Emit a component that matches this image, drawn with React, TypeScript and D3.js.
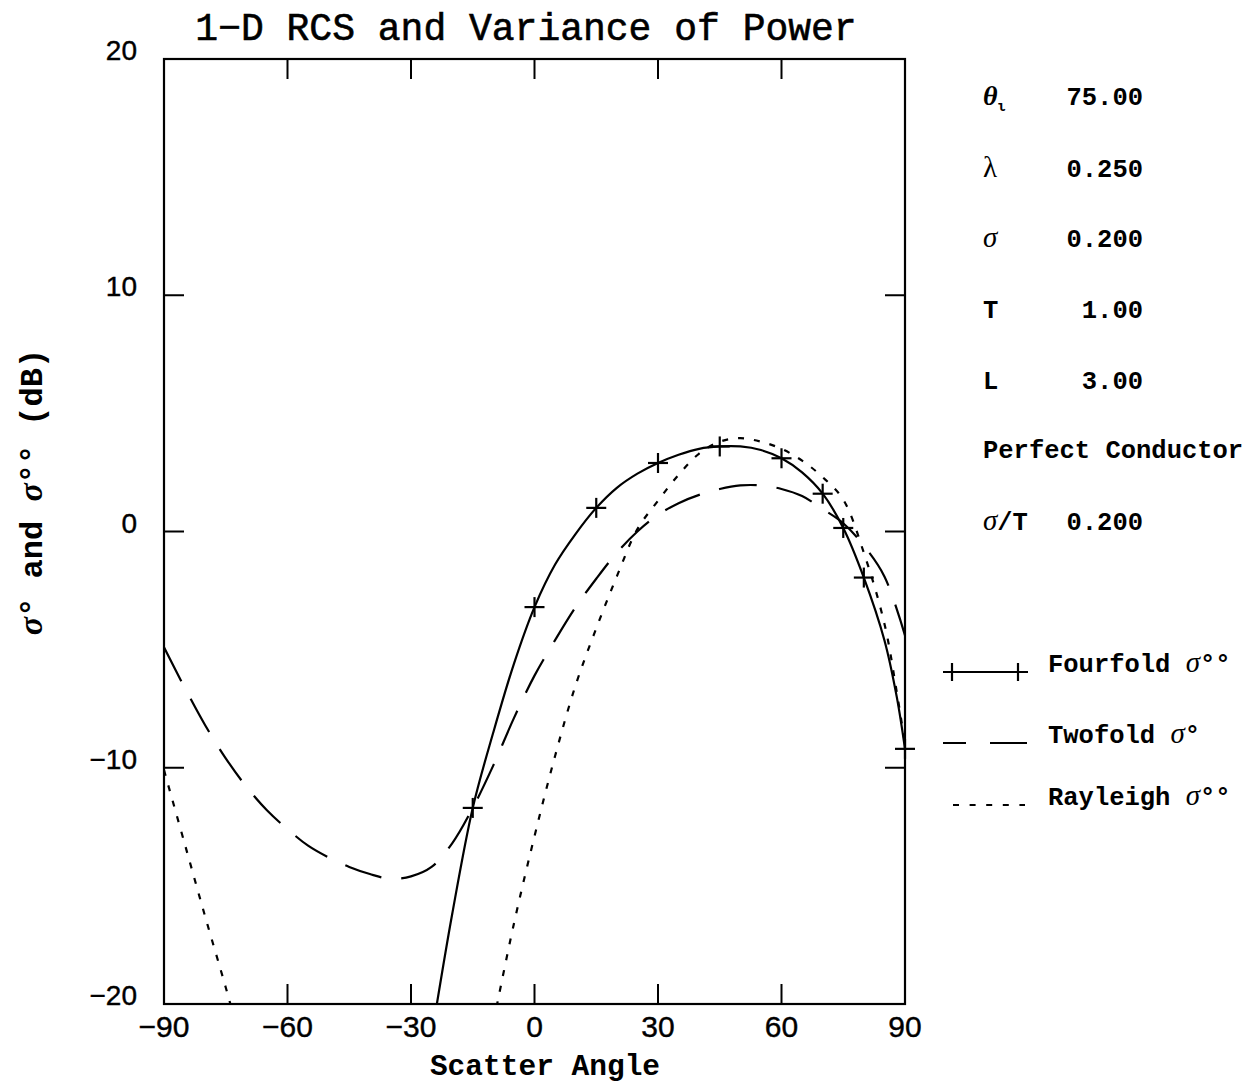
import React from "react";
import * as d3 from "d3";

const W = 1250;
const H = 1089;

const xTicks = [-90, -60, -30, 0, 30, 60, 90];
const yTicks = [-20, -10, 0, 10, 20];

// Fourfold sigma°° (solid)
const fourAngles = [-24, -20, -15, -10, -5, 0, 5, 10, 15, 20, 25, 30, 35, 40, 45, 50, 55, 60, 65, 70, 75, 80, 85, 88, 90];
const fourValues = [-20.3, -16.2, -11.7, -8.5, -5.6, -3.2, -1.4, -0.1, 1.0, 1.85, 2.45, 2.9, 3.25, 3.5, 3.6, 3.6, 3.45, 3.1, 2.5, 1.6, 0.15, -1.95, -4.6, -7.0, -9.2];
const markerAngles = [-15, 0, 15, 30, 45, 60, 70, 75, 80, 90];
const markerValues = [-11.7, -3.2, 1.0, 2.9, 3.6, 3.1, 1.6, 0.15, -1.95, -9.2];

// Twofold sigma° (dashed)
const twoAngles = [-90, -85, -80, -75, -70, -65, -60, -55, -50, -45, -40, -35, -30, -25, -20, -15, -10, -5, 0, 5, 10, 15, 20, 25, 30, 35, 40, 45, 50, 55, 60, 65, 70, 75, 80, 85, 90];
const twoValues = [-4.9, -6.6, -8.2, -9.6, -10.8, -11.8, -12.6, -13.3, -13.8, -14.2, -14.5, -14.7, -14.6, -14.2, -13.2, -11.7, -9.9, -7.9, -6.1, -4.6, -3.2, -2.0, -0.9, 0.0, 0.7, 1.2, 1.55, 1.8, 1.95, 1.95, 1.8, 1.5, 0.95, 0.35, -0.6, -1.9, -4.4];

// Rayleigh sigma°° (dotted), two visible branches
const rayLeftAngles = [-90, -85, -80, -75, -72];
const rayLeftValues = [-10.1, -13.2, -16.3, -19.3, -21.2];
const rayRightAngles = [-10, -5, 0, 5, 10, 15, 20, 25, 30, 35, 40, 45, 50, 55, 60, 65, 70, 75, 80, 85, 88, 90];
const rayRightValues = [-20.8, -16.6, -12.9, -9.5, -6.5, -4.1, -1.9, 0.1, 1.3, 2.4, 3.3, 3.8, 3.95, 3.8, 3.5, 3.0, 2.3, 1.35, -0.9, -3.9, -6.8, -9.0];

const paramLabels = ["λ", "σ", "T", "L"];
const paramValues = ["0.250", "0.200", "1.00", "3.00"];
const thetaValue = "75.00";
const ratioValue = "0.200";
const legendLabels = ["Fourfold σ°°", "Twofold σ°", "Rayleigh σ°°"];

const MONO = "'Liberation Mono', 'DejaVu Sans Mono', monospace";
const SANS = "'Liberation Sans', Arial, sans-serif";
const SERIF = "'Liberation Serif', 'DejaVu Serif', serif";

export default function App() {
  const x = d3.scaleLinear().domain([-90, 90]).range([164, 905]);
  const y = d3.scaleLinear().domain([-20, 20]).range([1004, 59]);
  const line = d3
    .line<[number, number]>()
    .x((d) => x(d[0]))
    .y((d) => y(d[1]))
    .curve(d3.curveCatmullRom.alpha(0.5));

  const four = fourAngles.map((a, i) => [a, fourValues[i]] as [number, number]);
  const two = twoAngles.map((a, i) => [a, twoValues[i]] as [number, number]);
  const rayL = rayLeftAngles.map((a, i) => [a, rayLeftValues[i]] as [number, number]);
  const rayR = rayRightAngles.map((a, i) => [a, rayRightValues[i]] as [number, number]);

  const [x0, x1] = x.range();
  const [y0, y1] = [y(20), y(-20)];
  const tickLen = 20;
  const markerArm = 10;

  const annX = 983;
  const valX = 1143;
  const annFont = 25.5;
  const rowYs = [177, 247, 318, 389];

  return (
    <svg
      width={W}
      height={H}
      style={{ position: "absolute", left: 0, top: 0, background: "#fff" }}
    >
      <rect x={0} y={0} width={W} height={H} fill="#fff" />
      <defs>
        <clipPath id="plotClip">
          <rect x={x0} y={y0} width={x1 - x0} height={y1 - y0} />
        </clipPath>
      </defs>

      {/* Title */}
      <text
        x={526}
        y={40}
        textAnchor="middle"
        fontFamily={MONO}
        fontSize={38}
        fill="#000"
        stroke="#000"
        strokeWidth={0.6}
      >
        1−D RCS and Variance of Power
      </text>

      {/* Curves */}
      <g clipPath="url(#plotClip)" fill="none" stroke="#000">
        <path d={line(two) || ""} strokeWidth={2.2} strokeDasharray="38 20" />
        <path d={line(rayL) || ""} strokeWidth={2.2} strokeDasharray="6 10" />
        <path d={line(rayR) || ""} strokeWidth={2.2} strokeDasharray="6 10" />
        <path d={line(four) || ""} strokeWidth={2.2} />
      </g>
      <g stroke="#000" strokeWidth={2.2}>
        {markerAngles.map((a, i) => (
          <g key={i}>
            <line x1={x(a) - markerArm} x2={x(a) + markerArm} y1={y(markerValues[i])} y2={y(markerValues[i])} />
            <line x1={x(a)} x2={x(a)} y1={y(markerValues[i]) - markerArm} y2={y(markerValues[i]) + markerArm} />
          </g>
        ))}
      </g>

      {/* Frame */}
      <rect x={x0} y={y0} width={x1 - x0} height={y1 - y0} fill="none" stroke="#000" strokeWidth={2.2} />

      {/* Ticks */}
      <g stroke="#000" strokeWidth={2}>
        {xTicks.slice(1, -1).map((t) => (
          <g key={"xt" + t}>
            <line x1={x(t)} x2={x(t)} y1={y1} y2={y1 - tickLen} />
            <line x1={x(t)} x2={x(t)} y1={y0} y2={y0 + tickLen} />
          </g>
        ))}
        {yTicks.slice(1, -1).map((t) => (
          <g key={"yt" + t}>
            <line x1={x0} x2={x0 + tickLen} y1={y(t)} y2={y(t)} />
            <line x1={x1} x2={x1 - tickLen} y1={y(t)} y2={y(t)} />
          </g>
        ))}
      </g>

      {/* Tick labels */}
      <g fontFamily={SANS} fontSize={30} fill="#000" stroke="#000" strokeWidth={0.4}>
        {xTicks.map((t) => (
          <text key={"xl" + t} x={x(t)} y={1037} textAnchor="middle">
            {t < 0 ? "−" + Math.abs(t) : String(t)}
          </text>
        ))}
      </g>
      <g fontFamily={SANS} fontSize={28} fill="#000" stroke="#000" strokeWidth={0.4}>
        {yTicks.map((t) => (
          <text key={"yl" + t} x={137} y={y(t) + 1} textAnchor="end">
            {t < 0 ? "−" + Math.abs(t) : String(t)}
          </text>
        ))}
      </g>

      {/* Axis titles */}
      <text
        x={545}
        y={1075}
        textAnchor="middle"
        fontFamily={MONO}
        fontWeight="bold"
        fontSize={29.5}
        fill="#000"
      >
        Scatter Angle
      </text>
      <text
        transform="translate(42,492) rotate(-90)"
        textAnchor="middle"
        fontFamily={MONO}
        fontWeight="bold"
        fontSize={32}
        fill="#000"
      >
        <tspan fontFamily={SERIF} fontStyle="italic" fontSize={34}>σ</tspan>° and <tspan fontFamily={SERIF} fontStyle="italic" fontSize={34}>σ</tspan>°° (dB)
      </text>

      {/* Parameter annotations */}
      <g fontFamily={MONO} fontSize={annFont} fontWeight="bold" fill="#000">
        <text x={annX} y={105}>
          <tspan fontFamily={SERIF} fontStyle="italic" fontSize={28}>θ</tspan>
          <tspan fontSize={14} dy={6}>ι</tspan>
        </text>
        <text x={valX} y={105} textAnchor="end">{thetaValue}</text>
        {paramLabels.map((p, i) => (
          <g key={p}>
            <text
              x={annX}
              y={rowYs[i]}
              fontFamily={p === "λ" || p === "σ" ? SERIF : MONO}
              fontStyle={p === "σ" ? "italic" : "normal"}
              fontWeight={p === "λ" || p === "σ" ? "normal" : "bold"}
              fontSize={p === "λ" || p === "σ" ? 29 : annFont}
            >
              {p}
            </text>
            <text x={valX} y={rowYs[i]} textAnchor="end">{paramValues[i]}</text>
          </g>
        ))}
        <text x={annX} y={458}>Perfect Conductor</text>
        <text x={annX} y={530}>
          <tspan fontFamily={SERIF} fontStyle="italic" fontWeight="normal" fontSize={29}>σ</tspan>/T
        </text>
        <text x={valX} y={530} textAnchor="end">{ratioValue}</text>
      </g>

      {/* Legend */}
      <g stroke="#000" strokeWidth={2.2} fill="none">
        <line x1={943} x2={1028} y1={672} y2={672} />
        <line x1={952} x2={952} y1={663} y2={681} />
        <line x1={1018} x2={1018} y1={663} y2={681} />
        <line x1={943} x2={1027} y1={743} y2={743} strokeDasharray="23 24 37" />
        <line x1={953} x2={1025} y1={805} y2={805} strokeDasharray="6 10.6" />
      </g>
      <g fontFamily={MONO} fontSize={annFont} fontWeight="bold" fill="#000">
        {legendLabels.map((l, i) => {
          const parts = l.split("σ");
          return (
            <text key={l} x={1048} y={[672, 743, 805][i]}>
              {parts[0]}
              <tspan fontFamily={SERIF} fontStyle="italic" fontWeight="normal" fontSize={29}>σ</tspan>
              {parts[1]}
            </text>
          );
        })}
      </g>
    </svg>
  );
}
